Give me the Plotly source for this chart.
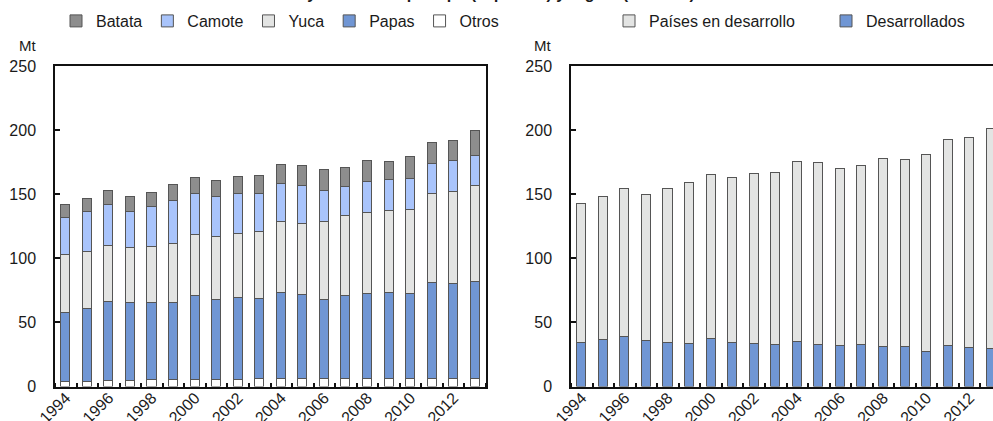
import plotly.graph_objects as go

years = list(range(1994, 2014))

# Left panel: production by crop (Mt)
otros  = [3.3, 3.8, 4.3, 4.3, 4.8, 4.8, 5.3, 5.3, 5.3, 5.6, 6.1, 6.1, 6.1, 6.1, 6.1, 5.6, 5.6, 6.1, 6.1, 6.1]
papas  = [54.4, 57.0, 62.0, 60.7, 60.2, 60.2, 65.4, 62.3, 63.6, 62.8, 66.7, 65.1, 61.5, 64.8, 66.2, 67.2, 66.4, 74.8, 74.0, 75.3]
yuca   = [44.5, 44.0, 43.5, 43.4, 44.2, 45.8, 47.4, 48.7, 49.7, 52.0, 55.2, 55.8, 60.4, 61.8, 63.2, 63.8, 65.9, 69.2, 71.9, 75.0]
camote = [28.9, 31.5, 32.0, 27.9, 30.8, 34.1, 32.0, 31.5, 31.5, 30.0, 30.2, 29.6, 24.7, 23.2, 24.0, 24.2, 24.0, 23.7, 23.6, 23.4]
batata = [10.5, 9.9, 10.4, 11.2, 11.2, 12.0, 12.5, 12.2, 13.0, 13.5, 14.6, 15.1, 16.2, 14.5, 16.1, 14.3, 16.9, 16.4, 16.2, 19.6]

# Right panel: production by region (Mt)
desarrollados = [34.0, 36.1, 38.9, 35.5, 34.0, 33.4, 37.1, 34.0, 33.1, 32.7, 34.5, 32.2, 31.4, 32.7, 30.6, 30.9, 27.2, 31.9, 29.8, 29.0]
en_desarrollo = [108.0, 111.4, 114.9, 113.6, 119.8, 125.6, 127.6, 128.6, 132.5, 133.8, 140.6, 141.9, 138.3, 139.0, 146.9, 145.8, 153.1, 160.7, 164.1, 171.9]

left_series = [("Otros", otros, "#ffffff"), ("Papas", papas, "#7096d4"),
               ("Yuca", yuca, "#e3e4e3"), ("Camote", camote, "#a9c4fb"),
               ("Batata", batata, "#8d8d8d")]
right_series = [("Desarrollados", desarrollados, "#7096d4"),
                ("Países en desarrollo", en_desarrollo, "#e3e4e3")]

FONT = "Liberation Sans, Arial, sans-serif"
W, H = 993, 421
BAR_W = 0.42
OUTLINE = dict(color="#555555", width=1)

fig = go.Figure()
for name, vals, col in left_series:
    fig.add_trace(go.Bar(x=years, y=vals, name=name, marker=dict(color=col, line=OUTLINE),
                         width=BAR_W, xaxis="x", yaxis="y", legend="legend"))
for name, vals, col in right_series:
    fig.add_trace(go.Bar(x=years, y=vals, name=name, marker=dict(color=col, line=OUTLINE),
                         width=BAR_W, xaxis="x2", yaxis="y2", legend="legend2"))

def px_x(p):
    return p / W

def px_y(p):
    return 1 - p / H

ydom = [px_y(386.5), px_y(66)]
xdom1 = [px_x(55), px_x(486)]
xdom2 = [px_x(571), 1.0]
unit = (486 - 55) / 20.0
x2_end = 1993.5 + (W - 571) / unit

common_x = dict(showline=True, linecolor="#111111", linewidth=1.5, mirror=True,
                tickmode="linear", tick0=1994, dtick=2, ticks="", tickangle=-45,
                showgrid=False, zeroline=False, automargin=False, ticklabelstandoff=-6,
                tickfont=dict(family=FONT, size=16, color="#1a1a1a"),
                minor=dict(tick0=1993.5, dtick=1, ticks="inside", ticklen=4,
                           tickcolor="#111111", tickwidth=1.5, showgrid=False))
common_y = dict(range=[0, 250], dtick=50, tick0=0, ticks="inside", ticklen=5,
                tickcolor="#111111", tickwidth=1.5, showline=True, linecolor="#111111",
                linewidth=1.5, showgrid=False, zeroline=False, ticklabelstandoff=14,
                automargin=False,
                tickfont=dict(family=FONT, size=16, color="#1a1a1a"))

fig.update_layout(
    width=W, height=H, autosize=False,
    margin=dict(l=0, r=0, t=0, b=0, autoexpand=False),
    paper_bgcolor="white", plot_bgcolor="white",
    barmode="stack", bargap=0,
    font=dict(family=FONT, size=16, color="#1a1a1a"),
    xaxis=dict(domain=xdom1, anchor="y", range=[1993.5, 2013.5], **common_x),
    yaxis=dict(domain=ydom, anchor="x", mirror=True, **common_y),
    xaxis2=dict(domain=xdom2, anchor="y2", range=[1993.5, x2_end], **common_x),
    yaxis2=dict(domain=ydom, anchor="x2", mirror=False, **common_y),
    legend=dict(orientation="h", x=px_x(56), xanchor="left", y=px_y(21), yanchor="middle",
                traceorder="reversed", font=dict(family=FONT, size=16, color="#1a1a1a"),
                bgcolor="rgba(0,0,0,0)", itemclick=False),
    legend2=dict(orientation="h", x=px_x(609), xanchor="left", y=px_y(21), yanchor="middle",
                 traceorder="reversed", font=dict(family=FONT, size=16, color="#1a1a1a"),
                 entrywidth=172, entrywidthmode="pixels",
                 bgcolor="rgba(0,0,0,0)", itemclick=False),
    annotations=[
        dict(text="Mt", x=px_x(27), y=px_y(45), xref="paper", yref="paper",
             xanchor="center", yanchor="middle",
             showarrow=False, font=dict(family=FONT, size=15, color="#1a1a1a")),
        dict(text="Mt", x=px_x(542), y=px_y(45), xref="paper", yref="paper",
             xanchor="center", yanchor="middle",
             showarrow=False, font=dict(family=FONT, size=15, color="#1a1a1a")),
        dict(text="<b>Producción de raíces y tubérculos por tipo (izquierda) y región (derecha)</b>",
             x=px_x(697), xanchor="right", y=px_y(4), yanchor="bottom",
             xref="paper", yref="paper", showarrow=False,
             font=dict(family=FONT, size=16, color="#1a1a1a")),
    ],
)

fig.write_html("out.html", include_plotlyjs=True, config={"displayModeBar": False},
               post_script="document.body.style.margin='0';document.body.style.overflow='hidden';")
